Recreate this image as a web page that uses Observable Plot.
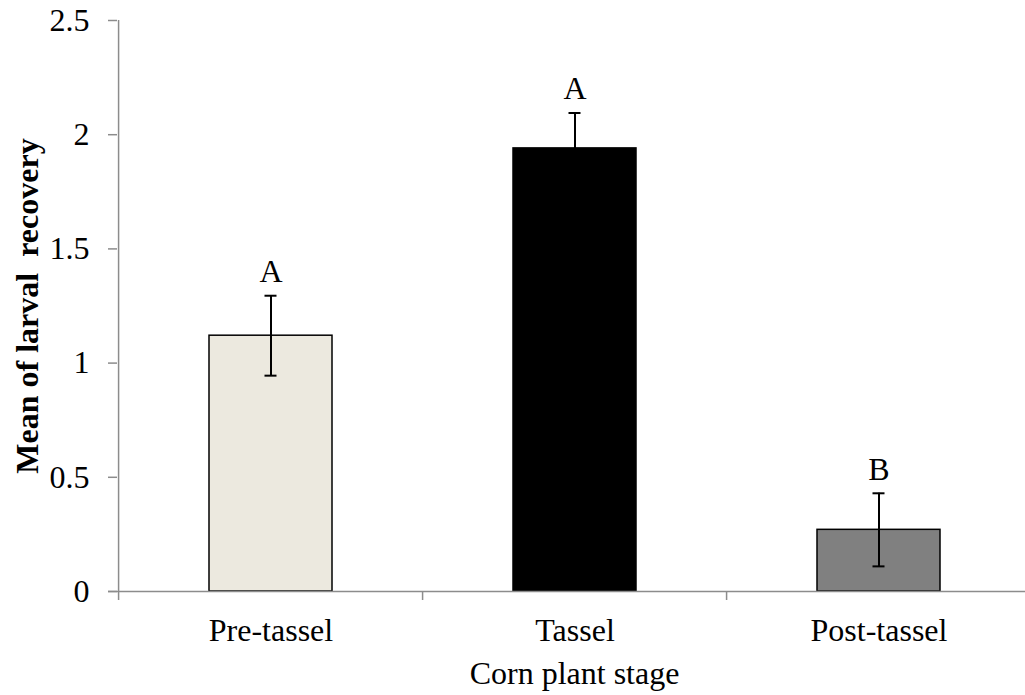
<!DOCTYPE html>
<html>
<head>
<meta charset="utf-8">
<script src="https://cdn.jsdelivr.net/npm/d3@7"></script>
<script src="https://cdn.jsdelivr.net/npm/@observablehq/plot@0.6"></script>
<style>
  html, body { margin: 0; padding: 0; background: #fff; }
  svg text { white-space: pre; }
</style>
</head>
<body>
<div id="chart"></div>
<script>
const categories = ["Pre-tassel", "Tassel", "Post-tassel"];
const means = [1.12, 1.94, 0.27];
const errors = [0.175, 0.155, 0.16];
const letters = ["A", "A", "B"];
const barColors = ["#ECE9DF", "#000000", "#808080"];
const yTicks = [0, 0.5, 1, 1.5, 2, 2.5];
const xTitle = "Corn plant stage";
const yTitle = "Mean of larval  recovery";

const data = categories.map((c, i) => ({
  stage: c, mean: means[i], lo: means[i] - errors[i], hi: means[i] + errors[i],
  letter: letters[i], color: barColors[i]
}));

const W = 1025, H = 695;
const xRange = [117, 1031.5];
const halfStep = (xRange[1] - xRange[0]) / categories.length / 2;
const axisGray = "#8c8c8c";
const font = "'Liberation Serif', 'Times New Roman', serif";
const fs = 32;

const chart = Plot.plot({
  width: W,
  height: H,
  marginLeft: 117,
  marginRight: 0,
  marginTop: 20,
  marginBottom: 104,
  style: { fontFamily: font, fontSize: fs + "px", background: "#fff", color: "#000" },
  x: { domain: categories, range: xRange, paddingInner: 0.596, paddingOuter: 0.298 },
  y: { domain: [0, 2.5] },
  marks: [
    // bars
    Plot.barY(data, { x: "stage", y: "mean", fill: "color", stroke: "#000", strokeWidth: 1.5 }),
    // error bars
    Plot.ruleX(data, { x: "stage", y1: "lo", y2: "hi", stroke: "#000", strokeWidth: 2 }),
    Plot.tickY(data, { x: "stage", y: "lo", stroke: "#000", strokeWidth: 2, insetLeft: 55.5, insetRight: 55.5 }),
    Plot.tickY(data, { x: "stage", y: "hi", stroke: "#000", strokeWidth: 2, insetLeft: 55.5, insetRight: 55.5 }),
    // significance letters
    Plot.text(data, { x: "stage", y: "hi", text: "letter", dy: -24, fontSize: fs, fill: "#000" }),
    // x axis baseline
    Plot.ruleY([0], { stroke: axisGray, strokeWidth: 1.5, insetLeft: -9 }),
    // y axis line (+ first category boundary tick)
    Plot.ruleX([categories[0]], { x: d => d, dx: -halfStep, stroke: axisGray, strokeWidth: 1.5, insetBottom: -9 }),
    // category boundary ticks
    Plot.ruleX(categories.slice(1), { x: d => d, dx: -halfStep, y1: 0, y2: 0, insetBottom: -9, stroke: axisGray, strokeWidth: 1.5 }),
    // axes
    Plot.axisY({ ticks: yTicks, tickFormat: d => String(d), tickSize: 9, tickPadding: 19,
      stroke: axisGray, strokeWidth: 1.5, fill: "#000", fontSize: fs, label: null }),
    Plot.axisX({ tickSize: 0, tickPadding: 27, fill: "#000", fontSize: fs, label: null }),
    // axis titles
    Plot.text([xTitle], { frameAnchor: "bottom", lineAnchor: "middle", textAnchor: "middle", dx: 3, dy: 82, fontSize: fs, fill: "#000" }),
    Plot.text([yTitle], { frameAnchor: "left", lineAnchor: "middle", textAnchor: "middle", dx: -90, rotate: -90, fontSize: fs, fontWeight: "bold", fill: "#000" })
  ]
});

document.getElementById("chart").appendChild(chart);
</script>
</body>
</html>
